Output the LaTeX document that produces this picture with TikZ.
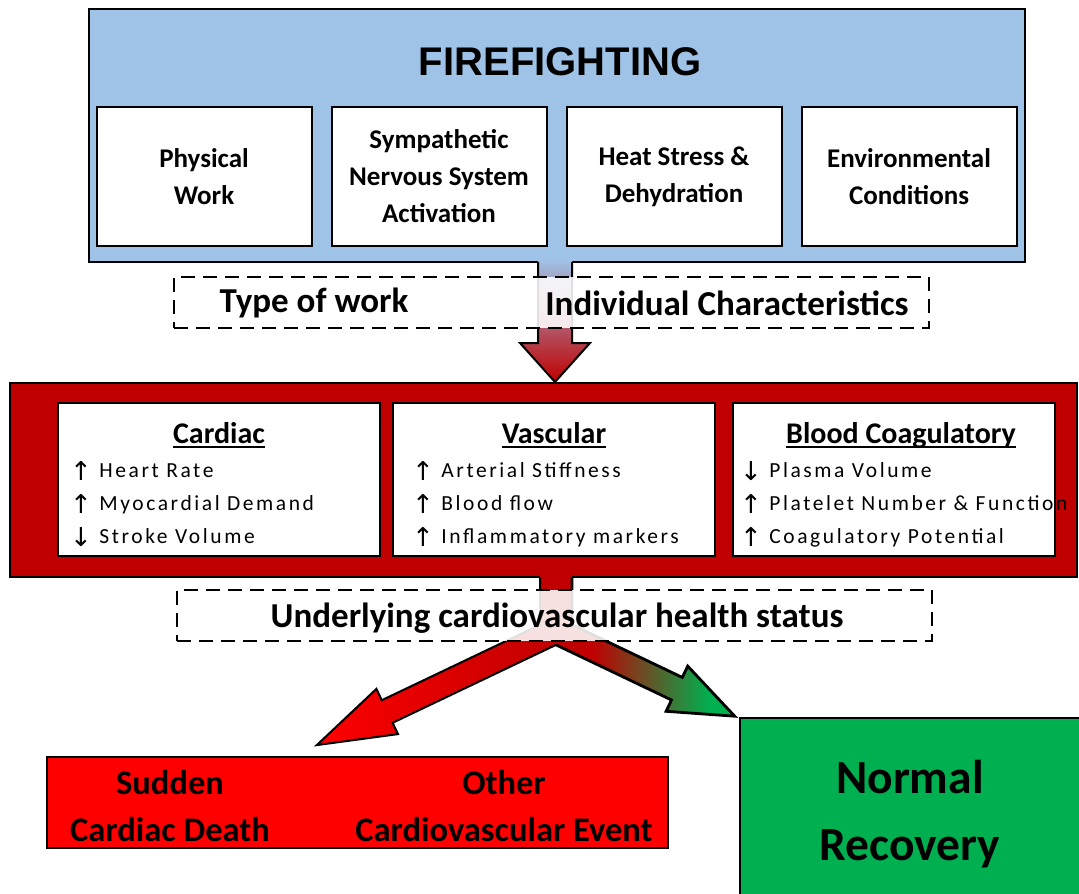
\documentclass[tikz,border=0pt]{standalone}
\usepackage{fontspec}
\setmainfont{Carlito}
\newfontfamily\titlefont{Liberation Sans}
\newfontfamily\arrowfont{DejaVu Sans}
\newfontfamily\itemfont[LetterSpace=12]{Carlito}
\usetikzlibrary{positioning}
\definecolor{fireblue}{HTML}{9FC3E7}
\definecolor{firered}{HTML}{C00000}
\definecolor{deathred}{HTML}{FF0000}
\definecolor{recgreen}{HTML}{00B050}
\pgfdeclarehorizontalshading{redtogreen}{100bp}{color(0bp)=(firered); color(35bp)=(firered); color(68bp)=(recgreen); color(100bp)=(recgreen)}
\newcommand{\arrup}{\raisebox{-2.5pt}{\arrowfont\fontsize{26}{26}\selectfont ↑}}
\newcommand{\arrdn}{\raisebox{-2.5pt}{\arrowfont\fontsize{26}{26}\selectfont ↓}}
\newcommand{\effhead}[1]{\setbox0=\hbox{#1}\rlap{\copy0}\raisebox{-5pt}{\rule{\wd0}{1.8pt}}}
\tikzstyle{frame} = [rectangle, draw=black, line width=2.5pt]
\tikzstyle{factor} = [rectangle, draw=black, line width=2pt, fill=white, minimum width=215pt, minimum height=139pt, align=center, font=\fontsize{27}{37}\selectfont\bfseries]
\tikzstyle{effect} = [rectangle, draw=black, line width=2pt, fill=white, minimum width=322pt, minimum height=153pt]
\tikzstyle{efftitle} = [anchor=base, font=\fontsize{30}{36}\selectfont\bfseries]
\tikzstyle{effitems} = [anchor=north west, inner sep=0pt, align=left, font=\itemfont\fontsize{21.5}{33}\selectfont]
\tikzstyle{modifier} = [rectangle, draw=black, line width=2pt, dash pattern=on 14pt off 8pt, fill=white, fill opacity=0.88, text opacity=1, minimum width=755pt, minimum height=51pt]
\tikzstyle{modtext} = [font=\fontsize{35}{42}\selectfont\bfseries]
\tikzstyle{outcome} = [align=center, font=\fontsize{34.5}{47}\selectfont\bfseries]
\tikzstyle{outline} = [draw=black, line width=2pt, line join=miter]

\begin{document}
\begin{tikzpicture}[x=1pt, y=-1pt]
    \useasboundingbox (0,0) rectangle (1079,894);
    \clip (0,0) rectangle (1079,894);

    % Firefighting demands
    \node (fire) [frame, fill=fireblue, minimum width=936pt, minimum height=253pt] at (557,135.5) {};
    \node (title) [font=\titlefont\bfseries\fontsize{40}{48}\selectfont] at (560,62) {FIREFIGHTING};
    \node (phys) [factor] at (204,176.5) {Physical\\Work};
    \node (symp) [factor, right=18pt of phys] {Sympathetic\\Nervous System\\Activation};
    \node (heat) [factor, right=18pt of symp] {Heat Stress \&\\Dehydration};
    \node (env) [factor, right=18pt of heat] {Environmental\\Conditions};

    % Physiological responses
    \node (resp) [frame, line width=2pt, fill=firered, minimum width=1067pt, minimum height=194pt] at (543.5,480) {};
    \node (cardiac) [effect] at (219,479.5) {};
    \node (vascular) [effect, right=11pt of cardiac] {};
    \node (blood) [effect, right=16pt of vascular] {};
    \node (cardtitle) [efftitle] at (cardiac |- 0,443) {\effhead{Cardiac}};
    \node (vasctitle) [efftitle] at (vascular |- 0,443) {\effhead{Vascular}};
    \node (bloodtitle) [efftitle] at (901,443) {\effhead{Blood Coagulatory}};
    \node (carditems) [effitems] at (70,461) {\arrup\ Heart Rate\\\arrup\ Myocardial Demand\\\arrdn\ Stroke Volume};
    \node (vascitems) [effitems] at (412,461) {\arrup\ Arterial Stiffness\\\arrup\ Blood flow\\\arrup\ Inflammatory markers};
    \node (blooditems) [effitems] at (740,461) {\arrdn\ Plasma Volume\\\arrup\ Platelet Number \& Function\\\arrup\ Coagulatory Potential};

    % Arrow down
    \shade[top color=fireblue, bottom color=firered] (538,259) -- (538,343) -- (520,343) -- (555,382) -- (590,343) -- (572,343) -- (572,259) -- cycle;
    \draw[outline] (538,262) -- (538,343) -- (520,343) -- (555,382) -- (590,343) -- (572,343) -- (572,262);

    % Modifiers
    \node (mods) [modifier] at (551.5,302.5) {};
    \node (work) [modtext] at (314,303) {Type of work};
    \node (indiv) [modtext] at (727,303) {Individual Characteristics};

    % Split arrows
    \shade[left color=deathred, right color=firered] (540,600) -- (540,624.8) -- (381.8,700.2) -- (376.4,688.9) -- (316.8,745.1) -- (398.0,734.1) -- (392.6,722.8) -- (556,644.85) -- (556,600) -- cycle;
    \shade[shading=redtogreen] (556,600) -- (556,644.85) -- (671.5,700.0) -- (666.1,711.3) -- (734.7,716.2) -- (687.7,666.1) -- (682.3,677.4) -- (572,624.8) -- (572,600) -- cycle;
    \fill[firered] (540,574) rectangle (572,626);
    \draw[outline] (540,577) -- (540,624.8) -- (381.8,700.2) -- (376.4,688.9) -- (316.8,745.1) -- (398.0,734.1) -- (392.6,722.8) -- (556,644.85);
    \draw[outline, line width=2.8pt] (556,644.85) -- (671.5,700.0) -- (666.1,711.3) -- (734.7,716.2) -- (687.7,666.1) -- (682.3,677.4) -- (572,624.8) -- (572,577);

    \node (health) [modifier] at (554.5,615.5) {};
    \node (status) [modtext] at (557,618) {Underlying cardiovascular health status};

    % Outcomes
    \node (death) [frame, fill=deathred, minimum width=621pt, minimum height=91pt] at (357.5,802.5) {};
    \node (scd) [outcome] at (170,806.5) {Sudden\\Cardiac Death};
    \node (cve) [outcome] at (504,806.5) {Other\\Cardiovascular Event};
    \node (recovery) [frame, fill=recgreen, minimum width=350pt, minimum height=192pt] at (915,814) {};
    \node (normal) [outcome, font=\fontsize{47.5}{67}\selectfont\bfseries] at (910,814.5) {Normal\\Recovery};
\end{tikzpicture}
\end{document}
